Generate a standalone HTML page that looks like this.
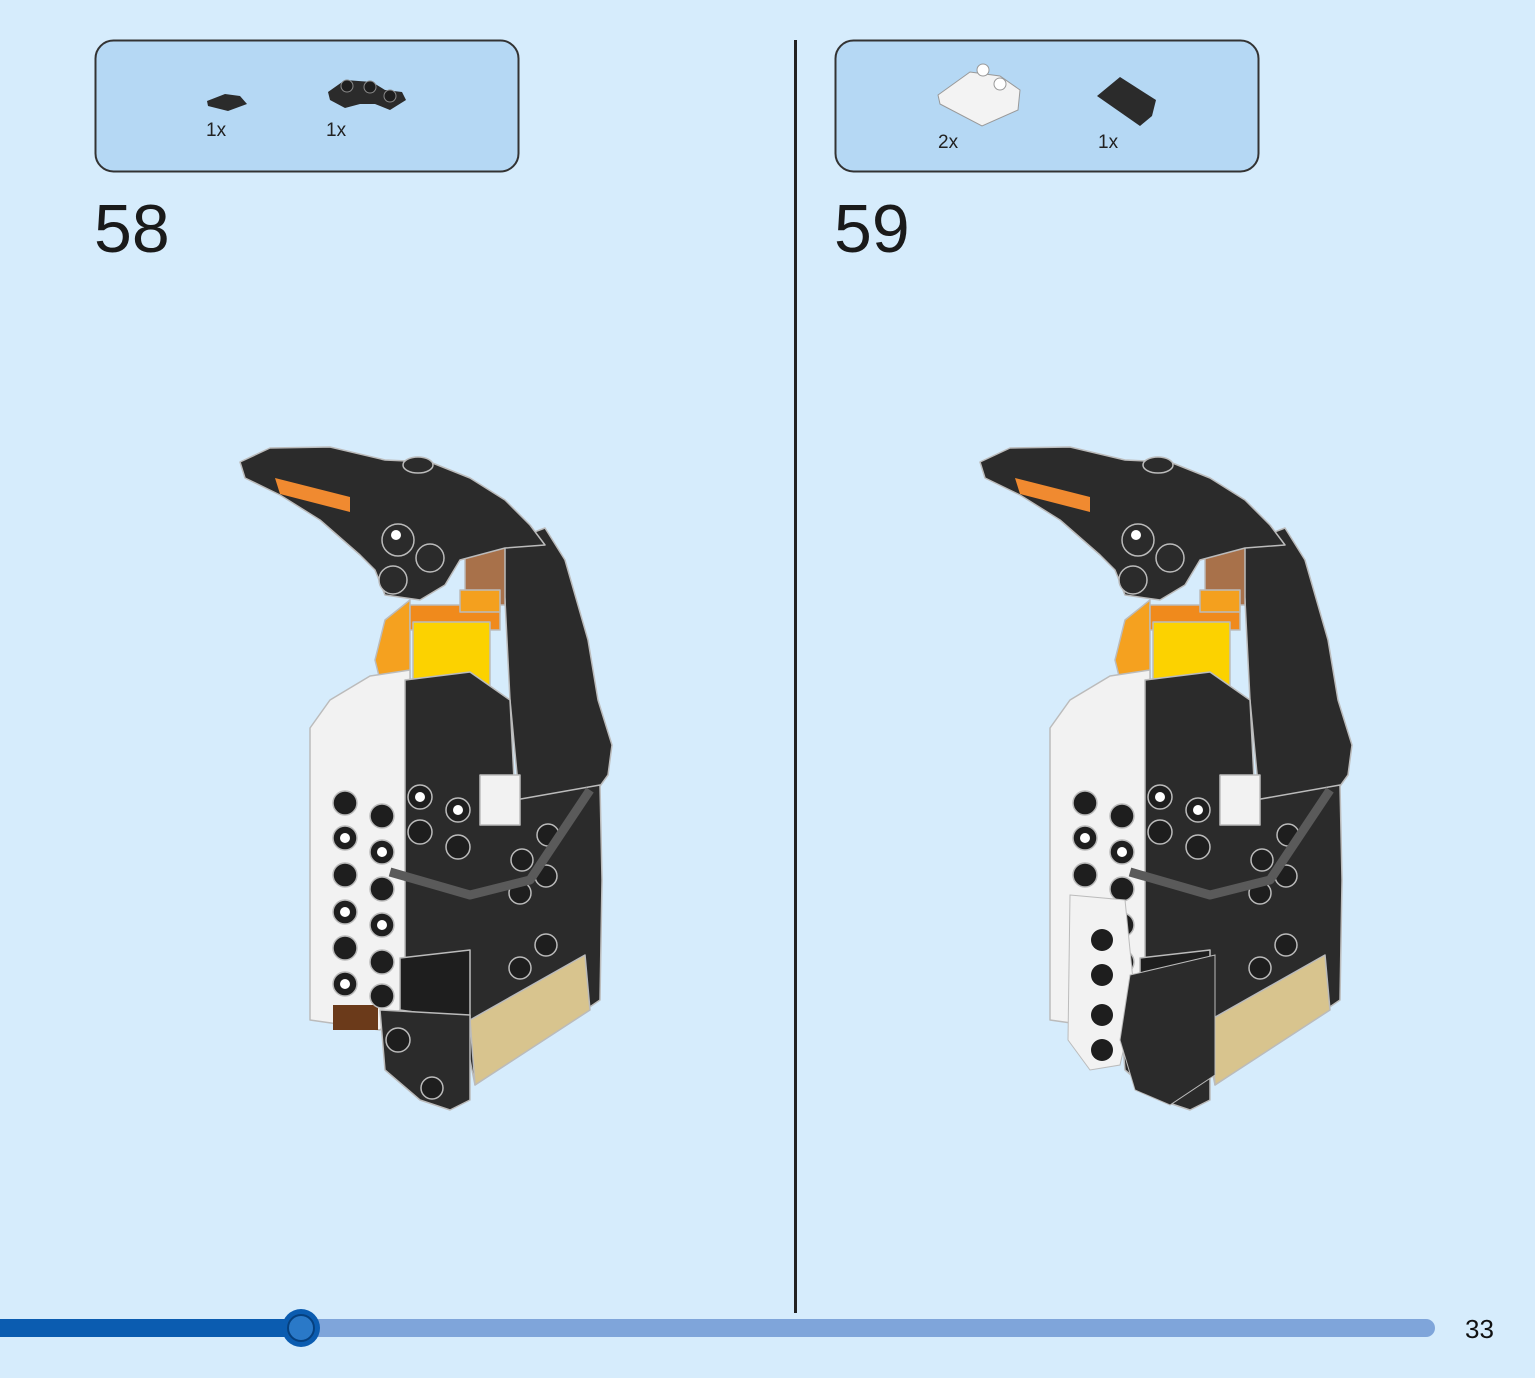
<!DOCTYPE html>
<html><head><meta charset="utf-8"><style>
html,body{margin:0;padding:0}
body{width:1535px;height:1378px;background:#d6ecfc;overflow:hidden;position:relative;font-family:"Liberation Sans",sans-serif}
</style></head><body>
<svg width="1535" height="1378" viewBox="0 0 1535 1378" xmlns="http://www.w3.org/2000/svg" style="position:absolute;left:0;top:0">
<defs>
<g id="peng" stroke="#bbb" stroke-width="1.5" stroke-linejoin="round">
  <!-- wing/back -->
  <path d="M500,545 L545,528 L565,560 L588,640 L598,700 L612,745 L608,775 L590,800 L520,805 L510,700 L505,600 Z" fill="#2b2b2b"/>
  <!-- orange round -->
  <path d="M410,600 L385,620 L375,660 L380,680 L410,680 Z" fill="#f5a11f"/>
  <rect x="410" y="605" width="90" height="25" fill="#f08a1c"/>
  <rect x="413" y="622" width="77" height="70" fill="#fcd200"/>
  <rect x="465" y="540" width="40" height="65" fill="#a8714a"/>
  <rect x="460" y="590" width="40" height="22" fill="#f4a01e"/>
  <!-- beak & head -->
  <path d="M240,462 L270,448 L330,447 L385,460 L430,462 L470,478 L505,500 L530,525 L545,545 L505,548 L460,560 L445,585 L420,600 L385,595 L375,570 L360,555 L320,520 L280,495 L245,478 Z" fill="#2b2b2b"/>
  <path d="M275,478 L350,497 L350,512 L280,494 Z" fill="#f08a30" stroke="none"/>
  <circle cx="398" cy="540" r="16" fill="#2b2b2b"/><circle cx="396" cy="535" r="5" fill="#fff" stroke="none"/>
  <circle cx="430" cy="558" r="14" fill="#2b2b2b"/><circle cx="393" cy="580" r="14" fill="#2b2b2b"/>
  <ellipse cx="418" cy="465" rx="15" ry="8" fill="#2b2b2b"/>
  <!-- white left body -->
  <path d="M310,728 L330,700 L370,676 L410,670 L410,1000 L380,1030 L310,1020 Z" fill="#f2f2f2"/>
  <rect x="333" y="1005" width="45" height="25" fill="#6b3a1a" stroke="none"/>
  <!-- black right body -->
  <path d="M405,680 L470,672 L510,700 L515,800 L600,785 L602,880 L600,1000 L475,1085 L470,1060 L405,1000 Z" fill="#2b2b2b"/>
  <rect x="480" y="775" width="40" height="50" fill="#f2f2f2"/>
  <!-- studs -->
  <g fill="#1e1e1e">
    <circle cx="345" cy="803" r="12"/><circle cx="382" cy="816" r="12"/>
    <circle cx="345" cy="838" r="12"/><circle cx="382" cy="852" r="12"/>
    <circle cx="345" cy="875" r="12"/><circle cx="382" cy="889" r="12"/>
    <circle cx="345" cy="912" r="12"/><circle cx="382" cy="925" r="12"/>
    <circle cx="345" cy="948" r="12"/><circle cx="382" cy="962" r="12"/>
    <circle cx="345" cy="984" r="12"/><circle cx="382" cy="996" r="12"/>
    <circle cx="420" cy="797" r="12"/><circle cx="458" cy="810" r="12"/>
    <circle cx="420" cy="832" r="12"/><circle cx="458" cy="847" r="12"/>
    <circle cx="522" cy="860" r="11"/><circle cx="548" cy="835" r="11"/>
    <circle cx="520" cy="893" r="11"/><circle cx="546" cy="876" r="11"/>
    <circle cx="520" cy="968" r="11"/><circle cx="546" cy="945" r="11"/>
  </g>
  <g fill="#fff" stroke="none">
    <circle cx="345" cy="838" r="5"/><circle cx="382" cy="852" r="5"/><circle cx="345" cy="912" r="5"/><circle cx="382" cy="925" r="5"/><circle cx="345" cy="984" r="5"/><circle cx="420" cy="797" r="5"/><circle cx="458" cy="810" r="5"/>
  </g>
  <path d="M390,872 L470,895 L530,880 L590,790" fill="none" stroke="#5a5a5a" stroke-width="9"/>
  <!-- bottom -->
  <path d="M400,958 L470,950 L470,1020 L400,1010 Z" fill="#1e1e1e"/>
  <path d="M470,1020 L585,955 L590,1010 L475,1085 Z" fill="#d8c48e"/>
  <path d="M380,1010 L470,1015 L470,1100 L450,1110 L420,1100 L385,1070 Z" fill="#2b2b2b"/>
  <circle cx="432" cy="1088" r="11" fill="#1e1e1e"/><circle cx="398" cy="1040" r="12" fill="#1e1e1e"/>
</g>
</defs>
<rect x="95.5" y="40.5" width="423" height="131" rx="18" fill="#b5d8f4" stroke="#333" stroke-width="2"/>
<rect x="835.5" y="40.5" width="423" height="131" rx="18" fill="#b5d8f4" stroke="#333" stroke-width="2"/>
<!-- parts -->
<path d="M207,101 L225,94 L240,96 L247,104 L228,111 L208,106 Z" fill="#2b2b2b"/>
<path d="M328,92 L345,80 L372,82 L385,90 L402,92 L406,100 L390,110 L375,104 L360,104 L345,108 L330,100 Z" fill="#2b2b2b"/>
<circle cx="347" cy="86" r="6" fill="#1e1e1e" stroke="#888"/><circle cx="370" cy="87" r="6" fill="#1e1e1e" stroke="#888"/><circle cx="390" cy="96" r="6" fill="#1e1e1e" stroke="#888"/>
<path d="M938,95 L970,72 L1000,76 L1020,90 L1018,110 L982,126 L940,104 Z" fill="#f3f3f3" stroke="#999"/>
<circle cx="983" cy="70" r="6" fill="#fff" stroke="#999"/><circle cx="1000" cy="84" r="6" fill="#fff" stroke="#999"/>
<path d="M1097,96 L1120,77 L1156,100 L1152,116 L1140,126 Z" fill="#2b2b2b"/>
<g font-size="19" fill="#222">
<text x="206" y="136">1x</text><text x="326" y="136">1x</text>
<text x="938" y="148">2x</text><text x="1098" y="148">1x</text>
</g>
<text x="94" y="252" font-size="68" fill="#1a1a1a">58</text>
<text x="834" y="252" font-size="68" fill="#1a1a1a">59</text>
<line x1="795.5" y1="40" x2="795.5" y2="1313" stroke="#222" stroke-width="3"/>
<use href="#peng"/>
<use href="#peng" transform="translate(740,0)"/>
<!-- 59 extra white front piece -->
<path d="M1070,895 L1125,900 L1135,1000 L1120,1065 L1090,1070 L1068,1040 Z" fill="#f2f2f2" stroke="#bbb"/>
<g fill="#1e1e1e"><circle cx="1102" cy="940" r="11"/><circle cx="1102" cy="975" r="11"/><circle cx="1102" cy="1015" r="11"/><circle cx="1102" cy="1050" r="11"/></g>
<path d="M1130,975 L1215,955 L1215,1075 L1170,1105 L1135,1090 L1120,1040 Z" fill="#2b2b2b" stroke="#bbb"/>
<!-- progress bar -->
<line x1="300" y1="1328" x2="1426" y2="1328" stroke="#7fa5da" stroke-width="18" stroke-linecap="round"/>
<rect x="0" y="1319" width="300" height="18" fill="#0b5cb0"/>
<circle cx="301" cy="1328" r="19" fill="#0b5cb0"/>
<circle cx="301" cy="1328" r="13" fill="#2a79c8" stroke="#06407e" stroke-width="2"/>
<text x="1465" y="1338" font-size="26" fill="#111">33</text>
</svg>
</body></html>
